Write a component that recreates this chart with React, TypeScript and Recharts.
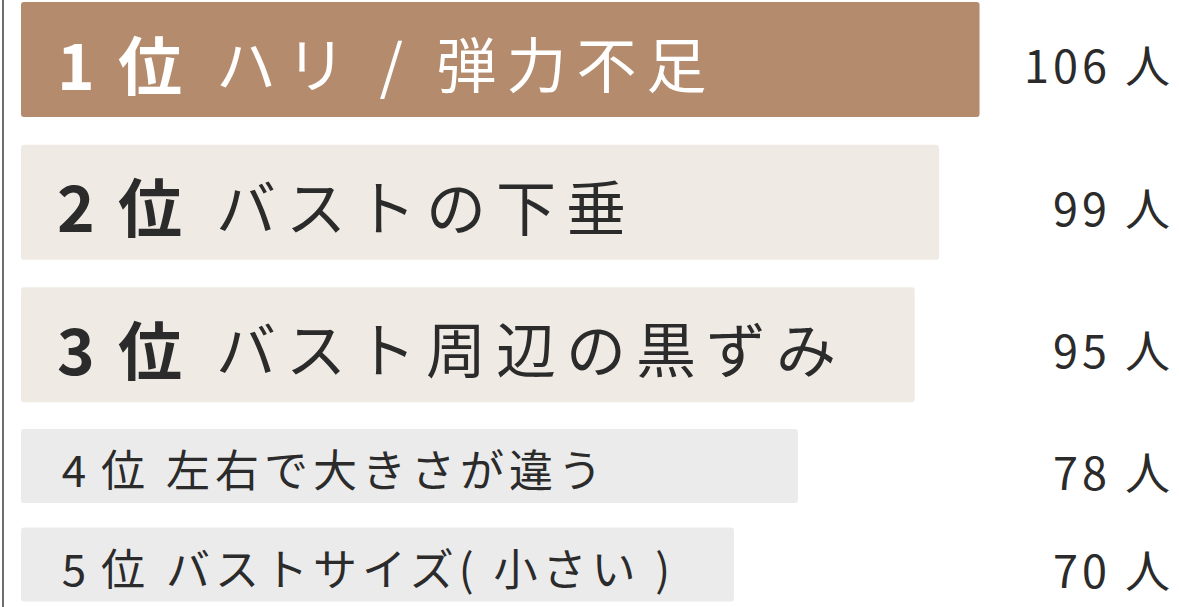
import { BarChart, Bar, XAxis, YAxis, Cell, LabelList } from "recharts";

// ranking data
const ranks = ["1", "2", "3", "4", "5"];
const concerns = [
  "ハリ / 弾力不足",
  "バストの下垂",
  "バスト周辺の黒ずみ",
  "左右で大きさが違う",
  "バストサイズ( 小さい )",
];
const counts = [106, 99, 95, 78, 70];
const unit = "人";

const rows = ranks.map((rank, i) => ({ rank, concern: concerns[i], count: counts[i] }));
const topRows = rows.slice(0, 3);
const lowerRows = rows.slice(3);

const barColors = ["#b48b6c", "#efebe4", "#efebe4", "#ebebeb", "#ebebeb"];
const TEXT = "#2b2b2b";
const FONT = '"Noto Sans CJK JP", "Noto Sans", sans-serif';
const CHART_W = 1179;
const MARGIN = { top: 0, right: 126, bottom: 0, left: 21 };
const X_DOMAIN = [21, 120];
const VALUE_RIGHT = 1170;

function nameLabel(offset: number, big: boolean) {
  return (props: any) => {
    const { x, y, height, index } = props;
    const i = index + offset;
    const row = rows[i];
    const cy = y + height / 2 + 2;
    const fill = i === 0 ? "#ffffff" : TEXT;
    if (big) {
      return (
        <g fontFamily={FONT} fill={fill}>
          <text x={x + 55} y={cy} textAnchor="middle" dominantBaseline="central" fontSize={64} fontWeight={700}>
            {row.rank}
          </text>
          <text x={x + 97} y={cy} dominantBaseline="central" fontSize={64} fontWeight={700}>
            位
          </text>
          <text x={x + 195} y={cy} dominantBaseline="central" fontSize={60} letterSpacing={10}>
            {row.concern}
          </text>
        </g>
      );
    }
    return (
      <g fontFamily={FONT} fill={fill}>
        <text x={x + 53} y={cy} textAnchor="middle" dominantBaseline="central" fontSize={44}>
          {row.rank}
        </text>
        <text x={x + 80} y={cy} dominantBaseline="central" fontSize={44}>
          位
        </text>
        <text x={x + 145} y={cy} dominantBaseline="central" fontSize={44} letterSpacing={5}>
          {row.concern}
        </text>
      </g>
    );
  };
}

function valueLabel(offset: number) {
  return (props: any) => {
    const { y, height, index } = props;
    const row = rows[index + offset];
    return (
      <text
        x={VALUE_RIGHT + 4}
        y={y + height / 2 + 4}
        textAnchor="end"
        dominantBaseline="central"
        fontFamily={FONT}
        fontSize={45}
        letterSpacing={4}
        fill={TEXT}
      >
        {`${row.count} ${unit}`}
      </text>
    );
  };
}

function RankChart({ data, offset, height, barSize, big }: any) {
  return (
    <BarChart layout="vertical" width={CHART_W} height={height} data={data} margin={MARGIN}>
      <XAxis type="number" scale="log" domain={X_DOMAIN} allowDataOverflow hide />
      <YAxis type="category" dataKey="rank" hide />
      <Bar dataKey="count" barSize={barSize} radius={3} isAnimationActive={false}>
        {data.map((_: any, i: number) => (
          <Cell key={i} fill={barColors[i + offset]} />
        ))}
        <LabelList dataKey="concern" content={nameLabel(offset, big)} />
        <LabelList dataKey="count" content={valueLabel(offset)} />
      </Bar>
    </BarChart>
  );
}

export default function App() {
  return (
    <div style={{ position: "relative", width: CHART_W, height: 607, overflow: "hidden", background: "#fff" }}>
      <style>{`body { margin: 0; }`}</style>
      <div style={{ position: "absolute", left: 2, top: 0, width: 2, height: 607, background: "#6e6e6e" }} />
      <div style={{ position: "absolute", left: 0, top: -12 }}>
        <RankChart data={topRows} offset={0} height={428} barSize={115} big />
      </div>
      <div style={{ position: "absolute", left: 0, top: 417 }}>
        <RankChart data={lowerRows} offset={3} height={197} barSize={74} big={false} />
      </div>
    </div>
  );
}
